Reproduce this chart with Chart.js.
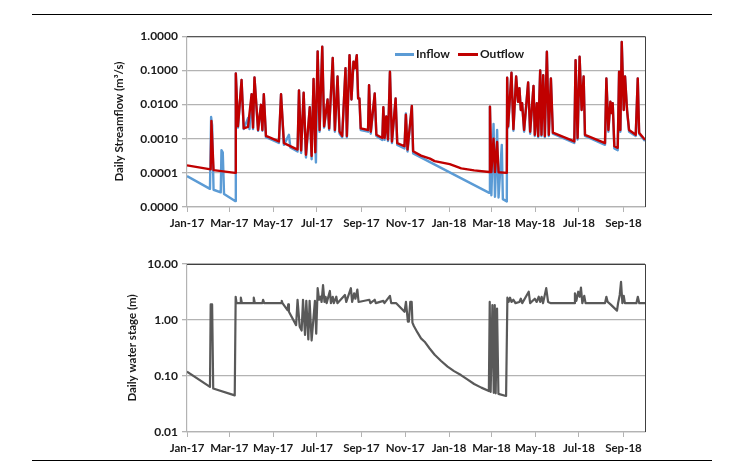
<!DOCTYPE html>
<html>
<head>
<meta charset="utf-8">
<script src="https://cdn.jsdelivr.net/npm/chart.js@4.4.1/dist/chart.umd.min.js"></script>
<style>
    body { margin: 0; width: 745px; height: 464px; background: #fff; position: relative; overflow: hidden; font-family: Lato, "Open Sans", sans-serif; }
    .rule { position: absolute; left: 32px; width: 680px; height: 0; border-top: 1.5px solid #000; }
    canvas { position: absolute; }
    .key-line { position: absolute; height: 3px; }
    .key-text { position: absolute; font: bold 12px Lato, sans-serif; color: #1a1a1a; line-height: 16px; }
</style>
</head>
<body>
<div class="rule" style="top:14px"></div>
<div class="rule" style="top:460px"></div>

<canvas id="flowChart" width="548" height="210" style="left:112px;top:25px"></canvas>
<canvas id="stageChart" width="535" height="210" style="left:125px;top:250px"></canvas>

<!-- legend of the top panel -->
<div class="key-line" style="left:395px;top:53px;width:19px;background:#5b9bd5"></div>
<div class="key-text" style="left:416px;top:46px">Inflow</div>
<div class="key-line" style="left:458px;top:53px;width:20px;background:#c00000"></div>
<div class="key-text" style="left:480px;top:46px">Outflow</div>

<script>
/*=============== DATA (day counted from 1 Jan 2017, value) ===============*/
const monthTicks = [0, 59, 120, 181, 243, 304, 365, 424, 485, 546, 608];
const monthLabels = ['Jan-17', 'Mar-17', 'May-17', 'Jul-17', 'Sep-17', 'Nov-17', 'Jan-18', 'Mar-18', 'May-18', 'Jul-18', 'Sep-18'];
const flowTicks = [0.00001, 0.0001, 0.001, 0.01, 0.1, 1];
const stageTicks = [0.01, 0.1, 1, 10];

// Daily streamflow (m3/s)
const outflow = [
    [0, 0.000166], [33, 0.000126], [34, 0.0033], [37, 0.00012], [67, 0.0001],
    [68, 0.081], [71, 0.0023], [76, 0.052], [79, 0.002], [85, 0.0022], [90, 0.02], [92, 0.0021],
    [94, 0.062], [99, 0.0018], [103, 0.0098], [105, 0.0018], [107, 0.02], [110, 0.0012],
    [128, 0.00083], [131, 0.02], [135, 0.00074], [154, 0.00048], [156, 0.026], [159, 0.00045],
    [162.5, 0.022], [165.7, 0.00034], [171, 0.0083], [173.6, 0.00031], [176.3, 0.056], [178.7, 0.0004],
    [182, 0.36], [184.7, 0.0018], [188.4, 0.49], [191, 0.0023], [195.8, 0.014], [198, 0.002],
    [203, 0.23], [206, 0.0018], [209.7, 0.066], [212.5, 0.0016], [216.2, 0.0012], [220.8, 0.115],
    [222.7, 0.0012], [226.4, 0.28], [229.1, 0.014], [231.9, 0.18], [233.8, 0.115], [236.5, 0.28],
    [238.4, 0.015], [240.2, 0.015], [242, 0.002], [252.2, 0.0018], [253.6, 0.037], [256, 0.0016],
    [261.5, 0.021], [263.8, 0.0013], [272.1, 0.00105], [273.5, 0.0083], [275.3, 0.00105], [277.6, 0.0045],
    [280, 0.00095], [282.7, 0.091], [285.5, 0.00083], [290.6, 0.015], [292.9, 0.00074], [303, 0.0006],
    [304.9, 0.005], [307.2, 0.00048], [313.2, 0.0091], [315, 0.00043], [326, 0.00032], [338.5, 0.00026],
    [345, 0.00022], [366, 0.00018], [382, 0.000135], [400, 0.000118], [421, 0.000106], [422, 0.0087],
    [424, 0.000105], [427, 0.001], [429, 0.000105], [432, 0.0008], [434, 0.000104], [445.5, 0.0001],
    [446, 0.061], [447.3, 0.0023], [452, 0.085], [454.7, 0.0019], [458.5, 0.066], [461.2, 0.012],
    [463.1, 0.03], [465, 0.0069], [466.8, 0.011], [469.6, 0.0018], [475.2, 0.044], [478, 0.0016],
    [482.7, 0.035], [484.5, 0.0013], [487.3, 0.011], [489.2, 0.0012], [492, 0.1], [493.8, 0.0013],
    [496.2, 0.072], [498.5, 0.0012], [501.3, 0.35], [504, 0.0013], [506.9, 0.058], [509.7, 0.0015],
    [539.5, 0.00083], [541.3, 0.2], [544.1, 0.00105], [546.9, 0.25], [549.7, 0.0069], [552.5, 0.066],
    [554.4, 0.0013], [582.3, 0.00074], [584.2, 0.058], [587, 0.0018], [589.8, 0.012], [591.6, 0.0056],
    [593, 0.011], [595.3, 0.0006], [600, 0.00054], [601.9, 0.091], [603.7, 0.0018], [605.6, 0.68],
    [608.4, 0.0069], [610.2, 0.066], [613, 0.0069], [615.8, 0.0018], [625.1, 0.0013], [627.9, 0.058],
    [629.8, 0.0015], [638, 0.00093]
];

const inflow = [
    [0, 0.00008], [32, 0.000034], [33.6, 0.0043], [35, 0.0025], [37, 0.000032], [47, 0.000027],
    [48, 0.00046], [49.8, 0.0004], [51.6, 0.000024], [67, 0.000015],
    [68, 0.081], [71, 0.0021], [76, 0.052], [79, 0.0019], [85, 0.004], [87, 0.0019], [90, 0.02],
    [92, 0.0019], [94, 0.062], [99, 0.0017], [103, 0.0098], [105, 0.0017], [107, 0.02], [110, 0.0011],
    [128, 0.00075], [129, 0.0022], [131, 0.02], [135, 0.00066], [142, 0.0013], [144, 0.00055],
    [154, 0.00042], [156, 0.026], [159, 0.00038], [162.5, 0.022], [165.7, 0.00028], [171, 0.0083],
    [173.6, 0.00025], [176.3, 0.056], [179.6, 0.0002], [182, 0.36], [184.7, 0.0016], [188.4, 0.49],
    [191, 0.0021], [195.8, 0.014], [198, 0.0018], [203, 0.23], [206, 0.0016], [209.7, 0.066],
    [212.5, 0.0014], [216.2, 0.0011], [220.8, 0.115], [222.7, 0.0011], [226.4, 0.28], [229.1, 0.014],
    [231.9, 0.18], [233.8, 0.115], [236.5, 0.28], [238.4, 0.015], [240.2, 0.015], [242, 0.0018],
    [252.2, 0.0016], [253.6, 0.037], [256, 0.0014], [261.5, 0.021], [263.8, 0.0012], [272.1, 0.00092],
    [273.5, 0.0083], [275.3, 0.00092], [277.6, 0.0045], [280, 0.00085], [282.7, 0.091], [285.5, 0.00074],
    [290.6, 0.015], [292.9, 0.00066], [303, 0.00052], [304.9, 0.0055], [307.2, 0.00042], [313.2, 0.0091],
    [315, 0.00037], [421, 0.000026], [422, 0.0087], [424, 0.000022], [427, 0.0027], [429, 0.00002],
    [432, 0.0018], [434, 0.000019], [438.5, 0.00066], [440, 0.000017], [445.5, 0.0000145],
    [446, 0.061], [447.3, 0.0021], [452, 0.085], [454.7, 0.0017], [458.5, 0.066], [461.2, 0.012],
    [463.1, 0.03], [465, 0.0069], [466.8, 0.011], [469.6, 0.0016], [475.2, 0.044], [478, 0.0014],
    [482.7, 0.035], [484.5, 0.0012], [487.3, 0.011], [489.2, 0.0011], [492, 0.1], [493.8, 0.0012],
    [496.2, 0.072], [498.5, 0.0011], [501.3, 0.35], [504, 0.0012], [506.9, 0.058], [509.7, 0.0014],
    [539.5, 0.00075], [541.3, 0.2], [544.1, 0.00095], [546.9, 0.25], [549.7, 0.0069], [552.5, 0.066],
    [554.4, 0.0012], [582.3, 0.00066], [584.2, 0.058], [587, 0.0016], [589.8, 0.012], [591.6, 0.0056],
    [593, 0.011], [595.3, 0.00052], [600, 0.00046], [601.9, 0.091], [603.7, 0.0016], [605.6, 0.68],
    [608.4, 0.0069], [610.2, 0.066], [613, 0.0069], [615.8, 0.0016], [625.1, 0.0012], [627.9, 0.058],
    [629.8, 0.0014], [638, 0.00085]
];

// Daily water stage (m)
const stage = [
    [0, 0.12], [32, 0.064], [33, 1.9], [35, 1.9], [36.5, 0.06], [66.5, 0.045], [67.8, 2.6], [69, 2.0],
    [74, 2.0], [75, 2.5], [76.5, 2.0], [92, 2.0], [93, 2.5], [94.5, 2.0], [105, 2.0], [106, 2.3],
    [107.5, 2.0], [131, 2.0], [132, 2.2], [133, 2.0], [140, 1.5], [141, 1.9], [142, 1.4], [152, 0.81],
    [154, 2.3], [157, 0.76], [159.7, 0.65], [161.6, 2.3], [164.4, 0.54], [166.2, 2.2], [169, 0.45],
    [170.8, 2.2], [173.6, 0.43], [178.2, 2.2], [180, 0.57], [182, 3.7], [184, 2.3], [186, 2.6],
    [187.5, 2.1], [189.5, 4.2], [191.5, 2.1], [193, 2.6], [194.5, 2.0], [199, 3.3], [200.5, 2.0],
    [203, 2.6], [204.5, 2.0], [208, 2.6], [209.5, 2.0], [220, 2.8], [221.9, 2.1], [228.3, 3.7],
    [230, 2.1], [232.8, 3.0], [234.6, 2.4], [237.3, 3.5], [239, 2.1], [254, 2.3], [255.5, 2.0],
    [261.5, 2.3], [263, 2.0], [273.5, 2.2], [275, 2.0], [282.7, 2.7], [284.5, 2.0], [291.5, 2.0],
    [303, 1.4], [305, 2.1], [307.7, 0.93], [309, 0.93], [311, 2.1], [313, 2.1], [314, 0.9], [316, 0.78],
    [321, 0.6], [326, 0.47], [331, 0.41], [338, 0.31], [345, 0.24], [354, 0.185], [363, 0.147],
    [372, 0.122], [381.6, 0.104], [390, 0.088], [400, 0.072], [410, 0.062], [420.5, 0.054],
    [421.7, 2.1], [423, 0.052], [425.4, 1.85], [427.3, 0.05], [428.7, 1.85], [430, 0.049], [431.9, 1.6],
    [433.8, 0.048], [444.5, 0.044], [446.3, 2.5], [448, 2.1], [450, 2.5], [452, 2.1], [454.7, 2.3],
    [457.5, 2.0], [463, 2.1], [465, 2.4], [467, 2.0], [476, 3.2], [478, 2.0], [484.5, 2.4], [487, 2.1],
    [490, 2.6], [492, 2.1], [494, 2.6], [496, 2.0], [500.4, 3.7], [503, 2.1], [507, 2.0], [539.5, 2.0],
    [540.4, 3.0], [542.4, 2.2], [545, 3.2], [547, 2.6], [548.8, 3.8], [550.7, 2.0], [553.4, 2.7],
    [555.2, 2.0], [582.3, 2.0], [584.2, 2.6], [586, 2.1], [590, 1.9], [599, 1.47], [600.5, 2.0],
    [602.8, 2.8], [604.6, 4.8], [606.5, 2.0], [608.4, 2.7], [610, 2.0], [626, 2.0], [628, 2.6],
    [630, 2.0], [638, 2.0]
];

/*=============== SHARED STYLE ===============*/
const gridGrey = '#b3b3b3';
const toPoints = rows => rows.map(r => ({ x: r[0], y: r[1] }));

// dark top and right edge of the plot area
const plotFrame = {
    id: 'plotFrame',
    afterDraw(chart) {
        const { ctx, chartArea: a } = chart;
        ctx.save();
        ctx.strokeStyle = '#404040';
        ctx.lineWidth = 1;
        ctx.beginPath();
        ctx.moveTo(a.left, a.top + 0.5);
        ctx.lineTo(a.right + 0.5, a.top + 0.5);
        ctx.lineTo(a.right + 0.5, a.bottom);
        ctx.stroke();
        ctx.restore();
    }
};

function xAxis() {
    return {
        type: 'linear',
        min: 0,
        max: 638,
        afterBuildTicks: s => { s.ticks = monthTicks.map(v => ({ value: v })); },
        afterFit: s => { s.height = 28; },
        ticks: {
            autoSkip: false,
            maxRotation: 0,
            padding: 4,
            color: '#1a1a1a',
            font: { family: 'Lato', size: 11.5, weight: 'bold' },
            callback: (v, i) => monthLabels[i]
        },
        grid: { drawOnChartArea: false, color: gridGrey, tickLength: 5, lineWidth: 1 },
        border: { color: gridGrey, width: 1.2 }
    };
}

function yAxis(tickValues, digits, title, width) {
    return {
        type: 'logarithmic',
        min: tickValues[0],
        max: tickValues[tickValues.length - 1],
        afterBuildTicks: s => { s.ticks = tickValues.map(v => ({ value: v })); },
        afterFit: s => { s.width = width; },
        ticks: {
            padding: 4,
            color: '#1a1a1a',
            font: { family: 'Lato', size: 12, weight: 'bold' },
            callback: v => Number(v).toFixed(digits)
        },
        grid: { color: gridGrey, lineWidth: 1.3, tickLength: 5 },
        border: { color: gridGrey, width: 1.2 },
        title: {
            display: true,
            text: title,
            color: '#1a1a1a',
            padding: 0,
            font: { family: 'Lato', size: 11.5, weight: 'bold' }
        }
    };
}

const baseOptions = (yScale, padTop) => ({
    responsive: false,
    animation: false,
    layout: { padding: { top: padTop, right: 15, left: 0, bottom: 0 } },
    elements: { point: { radius: 0 }, line: { tension: 0, borderJoinStyle: 'round' } },
    plugins: { legend: { display: false }, tooltip: { enabled: false } },
    scales: { x: xAxis(), y: yScale }
});

/*=============== STREAMFLOW ===============*/
new Chart(document.getElementById('flowChart'), {
    type: 'line',
    data: {
        datasets: [
            { label: 'Outflow', data: toPoints(outflow), borderColor: '#c00000', backgroundColor: '#c00000', borderWidth: 2.4, order: 0 },
            { label: 'Inflow', data: toPoints(inflow), borderColor: '#5b9bd5', backgroundColor: '#5b9bd5', borderWidth: 2.4, order: 1 }
        ]
    },
    options: baseOptions(yAxis(flowTicks, 4, 'Daily Streamflow (m³/s)', 75), 11),
    plugins: [plotFrame]
});

/*=============== WATER STAGE ===============*/
new Chart(document.getElementById('stageChart'), {
    type: 'line',
    data: {
        datasets: [
            { label: 'Water stage', data: toPoints(stage), borderColor: '#595959', backgroundColor: '#595959', borderWidth: 2.2 }
        ]
    },
    options: baseOptions(yAxis(stageTicks, 2, 'Daily water stage (m)', 62), 14),
    plugins: [plotFrame]
});
</script>
</body>
</html>
